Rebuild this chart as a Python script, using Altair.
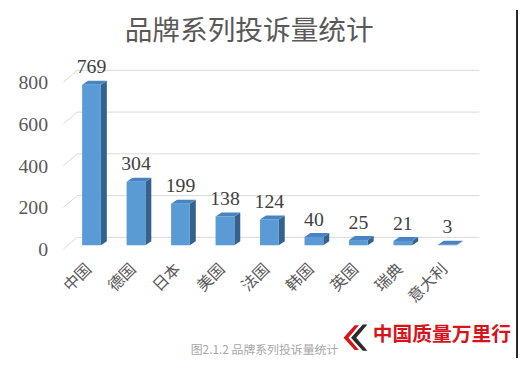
import altair as alt
import pandas as pd

# ---- data ----
categories = ["中国", "德国", "日本", "美国", "法国", "韩国", "英国", "瑞典", "意大利"]
counts = [769, 304, 199, 138, 124, 40, 25, 21, 3]
y_ticks = [0, 200, 400, 600, 800]

title_text = "品牌系列投诉量统计"
caption_text = "图2.1.2  品牌系列投诉量统计"
logo_text = "中国质量万里行"

# ---- layout constants ----
W, H = 405, 169
YMAX = 800
N = len(categories)
STEP = W / N                 # px per category
HALF = 9.5 / STEP            # half bar width in x units
DX = 6 / STEP                # 3D depth (x) in x units
DY = 4 * YMAX / H            # 3D depth (y) in y units

FRONT = "#5b9bd5"
SIDE = "#35618f"
TOP = "#4a84c0"
GRID = "#d9d9d9"
TEXT = "#595959"

bars = pd.DataFrame({"idx": list(range(N)), "cat": categories, "count": counts})
faces = pd.DataFrame(
    [{"idx": i, "count": v, "k": k} for i, v in enumerate(counts) for k in (0, 1)]
)
ticks = pd.DataFrame({"t": y_ticks})
one = pd.DataFrame({"title": [title_text], "caption": [caption_text], "logo": [logo_text]})

xscale = alt.Scale(domain=[-0.5, N - 0.5], nice=False, zero=False)
yscale = alt.Scale(domain=[0, YMAX], nice=False)

label_expr = "[" + ",".join(f"'{c}'" for c in categories) + "][datum.value]"

x_axis = alt.Axis(
    values=list(range(N)), labelExpr=label_expr, labelAngle=315,
    labelAlign="right", labelBaseline="middle",
    labelFont="Noto Sans CJK SC", labelFontSize=16, labelColor=TEXT,
    labelPadding=21, labelOffset=-3, ticks=False, domain=False, grid=False,
    labelOverlap=False, labelFlush=False, labelBound=False,
)
y_axis = alt.Axis(
    values=y_ticks, labelFont="Liberation Serif", labelFontSize=20,
    labelColor=TEXT, labelPadding=22, labelOffset=4.5, ticks=False,
    domain=False, grid=False, labelFlush=False,
)


def X(field, **kw):
    return alt.X(field, scale=xscale, axis=x_axis, title=None, **kw)


def Y(field, **kw):
    return alt.Y(field, scale=yscale, axis=y_axis, title=None, **kw)


# back-wall gridlines
grid = alt.Chart(ticks).mark_rule(
    color=GRID, strokeWidth=1, yOffset=-8, y2Offset=-8
).encode(
    y=Y("t:Q"), y2="t:Q",
    x=alt.value(8), x2=alt.value(415),
)
# side-wall diagonals
diag = alt.Chart(ticks).mark_rule(
    color=GRID, strokeWidth=1, yOffset=4, y2Offset=-8
).encode(
    y=Y("t:Q"), y2="t:Q",
    x=alt.value(-6), x2=alt.value(8),
)

side = alt.Chart(faces).transform_calculate(
    sx=f"datum.idx + {HALF} + datum.k * {DX}",
    sy=f"datum.count + datum.k * {DY}",
    sy2=f"datum.k * {DY}",
).mark_area(orient="vertical", color=SIDE).encode(
    x=X("sx:Q"),
    y=Y("sy:Q", stack=None),
    y2="sy2:Q",
    detail="idx:N",
)

top = alt.Chart(faces).transform_calculate(
    tx=f"datum.idx - {HALF} + datum.k * {DX}",
    tx2=f"datum.idx + {HALF} + datum.k * {DX}",
    ty=f"datum.count + datum.k * {DY}",
).mark_area(orient="horizontal", color=TOP).encode(
    y=Y("ty:Q"),
    x=X("tx:Q", stack=None),
    x2="tx2:Q",
    detail="idx:N",
)

front = alt.Chart(bars).transform_calculate(
    fx=f"datum.idx - {HALF}", fx2=f"datum.idx + {HALF}"
).mark_bar(color=FRONT).encode(
    x=X("fx:Q"),
    x2="fx2:Q",
    y=Y("count:Q", stack=None),
    y2=alt.datum(0),
)

values = alt.Chart(bars).mark_text(
    font="Liberation Serif", fontSize=20, color="#404040",
    baseline="middle", align="center", dy=-17.5,
).encode(
    x=X("idx:Q"),
    y=Y("count:Q"),
    text="count:Q",
)

title = alt.Chart(one).mark_text(
    font="Noto Sans CJK SC", fontSize=28, color=TEXT, align="center", baseline="middle"
).encode(x=alt.value(182), y=alt.value(-47), text="title:N")

caption = alt.Chart(one).mark_text(
    font="Noto Sans CJK SC", fontSize=12, color="#a6a6a6", align="center", baseline="middle"
).encode(x=alt.value(197.5), y=alt.value(275), text="caption:N")

chevron = "M0.3,-1 L-0.6,0 L0.3,1 L0.65,1 L-0.2,0 L0.65,-1 Z"
chev_black = alt.Chart(one).mark_point(
    shape=chevron, filled=True, color="#2b2b2b", opacity=1, size=700
).encode(x=alt.value(293), y=alt.value(262.5))
chev_red = alt.Chart(one).mark_point(
    shape=chevron, filled=True, color="#d7141c", opacity=1, size=625
).encode(x=alt.value(285), y=alt.value(262.5))

logo = alt.Chart(one).mark_text(
    font="Noto Sans CJK SC", fontSize=20, fontWeight="bold", color="#d7141c",
    align="center", baseline="middle"
).encode(x=alt.value(377), y=alt.value(259.5), text="logo:N")

border = alt.Chart(one).mark_rule(color="#262626", strokeWidth=2).encode(
    x=alt.value(453), y=alt.value(-69), y2=alt.value(283)
)

chart = alt.layer(
    grid, diag, side, top, front, values, title, caption,
    chev_black, chev_red, logo, border
).properties(
    width=W, height=H,
    padding={"left": 62, "top": 69, "right": 49, "bottom": 114},
    autosize=alt.AutoSizeParams(type="none"),
    background="white",
).configure_view(stroke="transparent")

chart.save("out.html", embed_options={"renderer": "svg", "actions": False})
